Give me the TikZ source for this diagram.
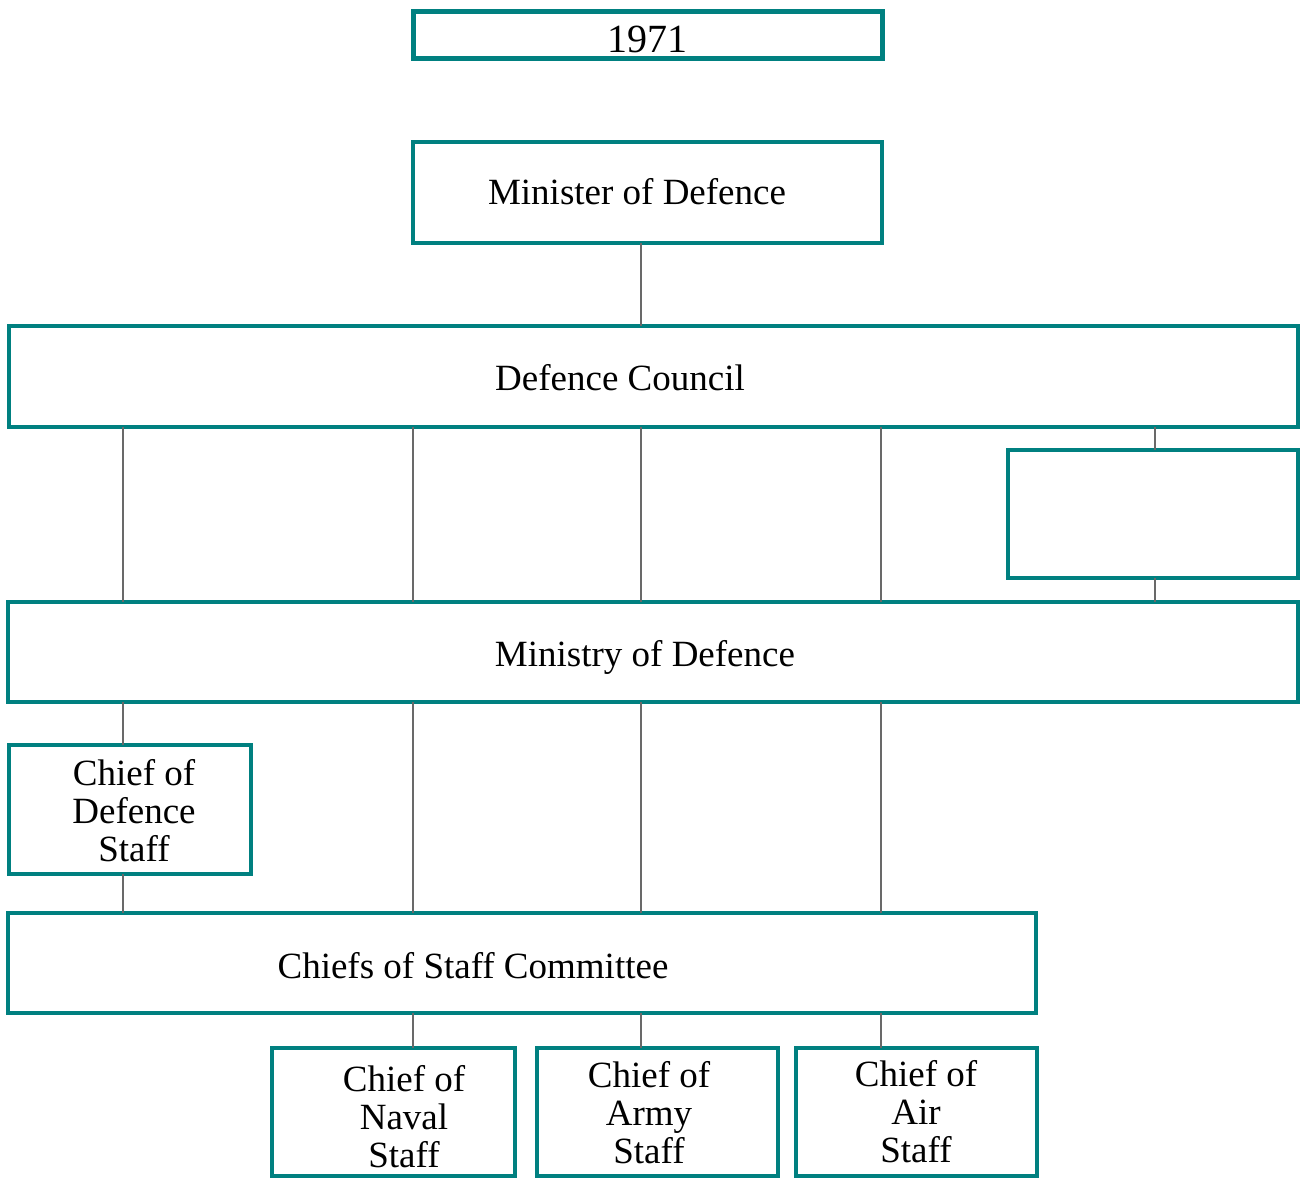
\documentclass[tikz,border=0pt]{standalone}
\usepackage{fontspec}
\setmainfont{Liberation Serif}
\definecolor{teal}{RGB}{0,128,128}
\definecolor{wire}{RGB}{105,105,105}
\begin{document}
\begin{tikzpicture}[x=1pt,y=-1pt,
  box/.style={draw=teal, line width=4pt, fill=white, inner sep=0pt, outer sep=0pt},
  label/.style={font=\fontsize{37}{38}\selectfont, inner sep=0pt, anchor=base, align=center},
  wireline/.style={draw=wire, line width=1.1pt}]
\useasboundingbox (0,0) rectangle (1302,1178);

% columns of the vertical connectors
\coordinate (cA) at (123,0);
\coordinate (cB) at (413,0);
\coordinate (cC) at (641,0);
\coordinate (cD) at (881,0);
\coordinate (cE) at (1155,0);

% boxes
\node[box, line width=5pt, minimum width=469pt, minimum height=47pt] (year) at (647.5,34.5) {};
\node[box, minimum width=469pt, minimum height=101pt] (minister)  at (647.5,192.5) {};
\node[box, minimum width=1289pt, minimum height=101pt](council)   at (653.5,376.5) {};
\node[box, minimum width=290pt, minimum height=128pt] (blank)     at (1153,514) {};
\node[box, minimum width=1290pt, minimum height=100pt](ministry)  at (653,652) {};
\node[box, minimum width=242pt, minimum height=129pt] (cds)       at (130,809.5) {};
\node[box, minimum width=1028pt, minimum height=100pt](committee) at (522,963) {};
\node[box, minimum width=243pt, minimum height=128pt] (naval)     at (393.5,1112) {};
\node[box, minimum width=241pt, minimum height=128pt] (army)      at (657.5,1112) {};
\node[box, minimum width=241pt, minimum height=128pt] (air)       at (916.5,1112) {};

% connectors
\draw[wireline] (minister.south -| cC) -- (council.north -| cC);
\foreach \c in {cA,cB,cC,cD}
  \draw[wireline] (council.south -| \c) -- (ministry.north -| \c);
\draw[wireline] (council.south -| cE) -- (blank.north -| cE);
\draw[wireline] (blank.south -| cE) -- (ministry.north -| cE);
\draw[wireline] (ministry.south -| cA) -- (cds.north -| cA);
\draw[wireline] (cds.south -| cA) -- (committee.north -| cA);
\foreach \c in {cB,cC,cD}
  \draw[wireline] (ministry.south -| \c) -- (committee.north -| \c);
\draw[wireline] (committee.south -| cB) -- (naval.north -| cB);
\draw[wireline] (committee.south -| cC) -- (army.north -| cC);
\draw[wireline] (committee.south -| cD) -- (air.north -| cD);

% labels (anchored at the baseline of their last line)
\node[label, font=\fontsize{40}{40}\selectfont] (tyear) at (647,52) {1971};
\node[label] (tminister)  at (637,204) {Minister of Defence};
\node[label] (tcouncil)   at (620,390) {Defence Council};
\node[label] (tministry)  at (645,666) {Ministry of Defence};
\node[label] (tcommittee) at (473,978) {Chiefs of Staff Committee};
\node[label] (tcds)   at (134,861) {Chief of\\Defence\\Staff};
\node[label] (tnaval) at (404,1167) {Chief of\\Naval\\Staff};
\node[label] (tarmy)  at (649,1163) {Chief of\\Army\\Staff};
\node[label] (tair)   at (916,1162) {Chief of\\Air\\Staff};
\end{tikzpicture}
\end{document}
